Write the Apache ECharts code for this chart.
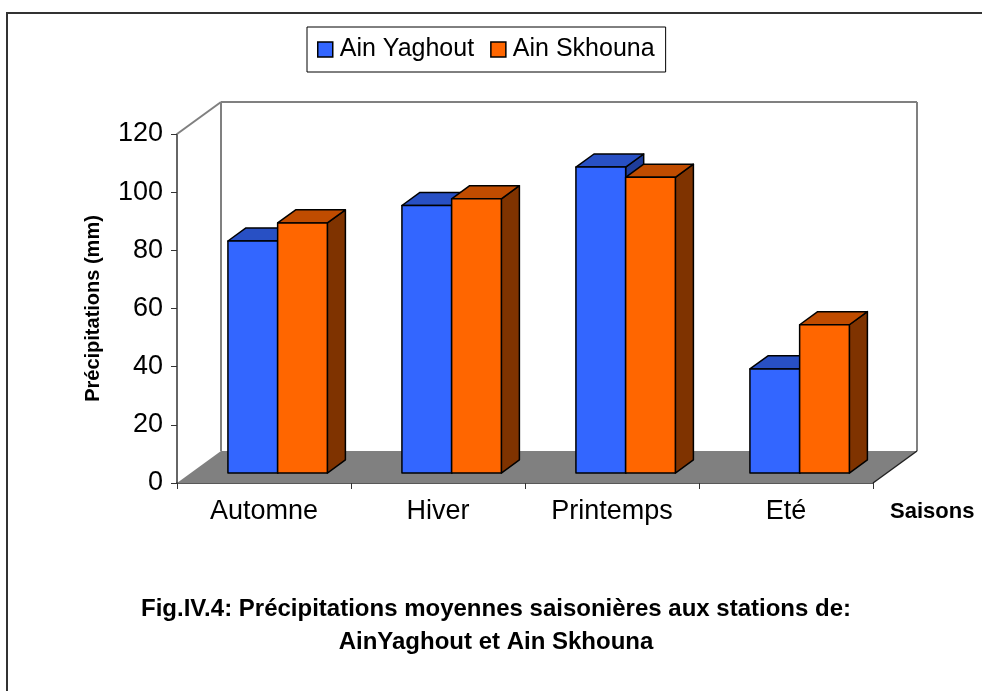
<!DOCTYPE html>
<html>
<head>
<meta charset="utf-8">
<script src="https://cdn.jsdelivr.net/npm/echarts@6/dist/echarts.min.js"></script>
<style>
html,body{margin:0;padding:0;background:#fff;}
#c{width:982px;height:691px;}
</style>
</head>
<body>
<div id="c"></div>
<script>
// ---- data ----
const categories = ['Automne', 'Hiver', 'Printemps', 'Eté'];
const ainYaghout = [79.8, 92.0, 105.2, 35.8];
const ainSkhouna = [86.0, 94.3, 101.7, 51.0];
const seriesNames = ['Ain Yaghout', 'Ain Skhouna'];
const yTicks = { min: 0, max: 120, interval: 20 };

// ---- style ----
const FONT = "'Liberation Sans', Arial, sans-serif";
const DEPTH = [44, -32];          // oblique depth vector of the floor (px)
const F_FRONT = 0.31, F_BACK = 0.72; // bar front/back depth fractions
const BAR_W = 0.2857;             // bar width as fraction of category band
const faces = [
  { front: '#3366FF', top: '#2850C4', side: '#1F3D9A' },
  { front: '#FF6600', top: '#C04C00', side: '#7F3300' }
];

function barRender(si) {
  return function (params, api) {
    const idx = api.value(0);
    const val = api.value(1);
    const bw = api.size([1, 0])[0];
    const c = api.coord([idx, 0]);
    const t = api.coord([idx, val]);
    const w = bw * BAR_W;
    const ox = DEPTH[0] * F_FRONT, oy = DEPTH[1] * F_FRONT;
    const ddx = DEPTH[0] * (F_BACK - F_FRONT), ddy = DEPTH[1] * (F_BACK - F_FRONT);
    const x0 = c[0] - w + si * w + ox;
    const x1 = x0 + w;
    const yb = c[1] + oy;
    const yt = t[1] + oy;
    const f = faces[si];
    const st = { stroke: '#000', lineWidth: 1.5, lineJoin: 'round' };
    return {
      type: 'group',
      children: [
        { type: 'polygon', shape: { points: [[x1, yt], [x1 + ddx, yt + ddy], [x1 + ddx, yb + ddy], [x1, yb]] },
          style: Object.assign({ fill: f.side }, st) },
        { type: 'polygon', shape: { points: [[x0, yt], [x1, yt], [x1 + ddx, yt + ddy], [x0 + ddx, yt + ddy]] },
          style: Object.assign({ fill: f.top }, st) },
        { type: 'rect', shape: { x: x0, y: yt, width: w, height: yb - yt },
          style: Object.assign({ fill: f.front }, st) }
      ]
    };
  };
}

function floorRender(params, api) {
  const bw = api.size([1, 0])[0];
  const pL = api.coord([0, yTicks.min]);
  const pR = api.coord([categories.length - 1, yTicks.min]);
  const pT = api.coord([0, yTicks.max]);
  const L = pL[0] - bw / 2, R = pR[0] + bw / 2, y0 = pL[1], yT = pT[1];
  const dx = DEPTH[0], dy = DEPTH[1];
  const gray = { stroke: '#808080', lineWidth: 2 };
  return {
    type: 'group',
    children: [
      { type: 'polygon', shape: { points: [[L, y0], [R, y0], [R + dx, y0 + dy], [L + dx, y0 + dy]] },
        style: { fill: '#808080' } },
      { type: 'line', shape: { x1: L + dx, y1: yT + dy, x2: L + dx, y2: y0 + dy }, style: gray },
      { type: 'line', shape: { x1: L, y1: yT, x2: L + dx, y2: yT + dy }, style: gray },
      { type: 'line', shape: { x1: L + dx, y1: yT + dy, x2: R + dx, y2: yT + dy }, style: gray },
      { type: 'line', shape: { x1: R + dx, y1: yT + dy, x2: R + dx, y2: y0 + dy }, style: gray },
      { type: 'line', shape: { x1: R, y1: y0, x2: R + dx, y2: y0 + dy }, style: { stroke: '#222', lineWidth: 1.5 } }
    ]
  };
}

const chart = echarts.init(document.getElementById('c'), null, { renderer: 'canvas' });
chart.setOption({
  backgroundColor: '#fff',
  animation: false,
  textStyle: { fontFamily: FONT },
  title: {
    text: 'Fig.IV.4: Précipitations moyennes saisonières aux stations de:\nAinYaghout et Ain Skhouna',
    left: 491, top: 588, textAlign: 'center',
    textStyle: { fontFamily: FONT, fontSize: 24, fontWeight: 'bold', color: '#000', lineHeight: 33, align: 'center' }
  },
  legend: {
    data: seriesNames,
    left: 307, top: 27,
    padding: [10, 11, 10, 10],
    itemGap: 16, itemWidth: 15, itemHeight: 15,
    icon: 'rect',
    borderColor: '#000', borderWidth: 1,
    itemStyle: { borderColor: '#000', borderWidth: 1.5 },
    textStyle: { fontFamily: FONT, fontSize: 25, color: '#000', padding: [0, 0, 0, 2] }
  },
  grid: { left: 177, right: 109, top: 134, bottom: 208, containLabel: false },
  xAxis: {
    type: 'category',
    data: categories,
    boundaryGap: true,
    name: 'Saisons',
    nameLocation: 'end',
    nameGap: 17,
    nameTextStyle: { fontFamily: FONT, fontSize: 22, fontWeight: 'bold', color: '#000', verticalAlign: 'top', padding: [18, 0, 0, 0] },
    axisLine: { lineStyle: { color: '#222', width: 1.5 } },
    axisTick: { show: true, length: 6, alignWithLabel: false, lineStyle: { color: '#333' } },
    axisLabel: { fontFamily: FONT, fontSize: 27, color: '#000', margin: 15 },
    splitLine: { show: false }
  },
  yAxis: {
    type: 'value',
    min: yTicks.min, max: yTicks.max, interval: yTicks.interval,
    name: 'Précipitations (mm)',
    nameLocation: 'middle', nameRotate: 90, nameGap: 74,
    nameTextStyle: { fontFamily: FONT, fontSize: 20, fontWeight: 'bold', color: '#000' },
    axisLine: { show: true, lineStyle: { color: '#333', width: 1.5 } },
    axisTick: { show: true, length: 6, lineStyle: { color: '#333' } },
    axisLabel: { fontFamily: FONT, fontSize: 27, color: '#000', margin: 14 },
    splitLine: { show: false }
  },
  graphic: [
    { type: 'rect', shape: { x: 7, y: 13, width: 1000, height: 700 }, style: { fill: null, stroke: '#333', lineWidth: 2 }, silent: true, z: -1 }
  ],
  series: [
    { type: 'custom', name: 'floor', data: [[0, 0]], renderItem: floorRender, clip: false, z: 1, silent: true },
    { type: 'custom', name: seriesNames[0], data: ainYaghout.map((v, i) => [i, v]),
      encode: { x: 0, y: 1 }, renderItem: barRender(0), clip: false, z: 3,
      itemStyle: { color: faces[0].front, borderColor: '#000' } },
    { type: 'custom', name: seriesNames[1], data: ainSkhouna.map((v, i) => [i, v]),
      encode: { x: 0, y: 1 }, renderItem: barRender(1), clip: false, z: 4,
      itemStyle: { color: faces[1].front, borderColor: '#000' } }
  ]
});
</script>
</body>
</html>
